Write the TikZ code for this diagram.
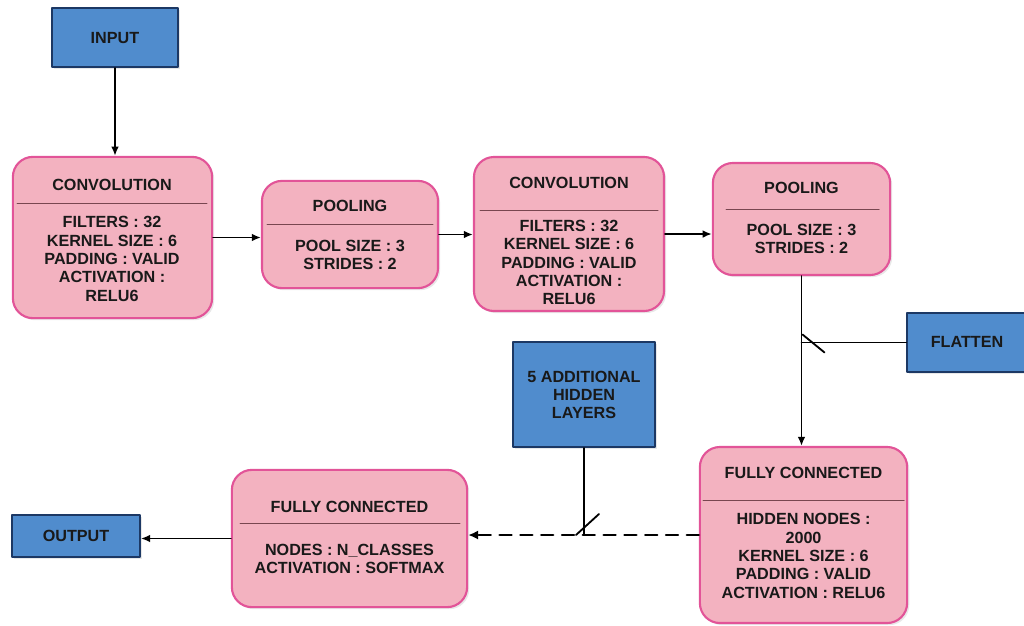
\documentclass[tikz,border=0pt]{standalone}
\usepackage{fontspec}
\setmainfont{Liberation Sans}
\usetikzlibrary{arrows.meta,shadows}
\definecolor{rosa}{RGB}{243,178,192}
\definecolor{rosabordo}{RGB}{226,84,152}
\definecolor{blu}{RGB}{80,140,205}
\definecolor{blubordo}{RGB}{28,56,100}
\definecolor{rigacol}{RGB}{120,70,80}

\begin{document}
\begin{tikzpicture}[x=0.025cm,y=-0.025cm,line join=round,line cap=round,
    font=\fontsize{11.5}{13.1}\selectfont\bfseries,
    strato/.style={rectangle,rounded corners=0.5cm,draw=rosabordo,fill=rosa,
                   line width=1.5pt,
                   drop shadow={opacity=0.18,shadow xshift=1.5pt,shadow yshift=-1.5pt}},
    scatola/.style={rectangle,draw=blubordo,fill=blu,line width=1.3pt,
                    drop shadow={opacity=0.18,shadow xshift=1.5pt,shadow yshift=-1.5pt}},
    testo/.style={align=center,inner sep=0pt,text=black!90},
    riga/.style={line width=0.7pt,draw=rigacol},
    linea/.style={line width=1.3pt},
    freccia/.style={line width=1.3pt,-{Latex[length=6.5pt,width=5.5pt]}},
    tratteggio/.style={line width=1.7pt,dash pattern=on 0.3cm off 0.22cm,
                       -{Latex[length=7pt,width=6.5pt]}}]

  \useasboundingbox (0,0) rectangle (1024,625);

  % ---- ingresso ------------------------------------------------------------
  \node[scatola,minimum width=3.15cm,minimum height=1.48cm] (input) at (115,37.5) {};
  \node[testo] (inputtxt) at (115,38) {INPUT};

  % ---- prima convoluzione --------------------------------------------------
  \node[strato,minimum width=4.98cm,minimum height=4.03cm] (conv1) at (112.5,237.5) {};
  \node[testo] (conv1tit) at (112,185) {CONVOLUTION};
  \draw[riga] (17,203) -- (207,203);
  \node[testo] (conv1txt) at (112,259)
        {FILTERS : 32\\KERNEL SIZE : 6\\PADDING : VALID\\ACTIVATION :\\RELU6};

  % ---- primo pooling -------------------------------------------------------
  \node[strato,minimum width=4.4cm,minimum height=2.68cm] (pool1) at (350,234.5) {};
  \node[testo] (pool1tit) at (350,206) {POOLING};
  \draw[riga] (267,224) -- (433,224);
  \node[testo] (pool1txt) at (350,255) {POOL SIZE : 3\\STRIDES : 2};

  % ---- seconda convoluzione ------------------------------------------------
  \node[strato,minimum width=4.75cm,minimum height=3.85cm] (conv2) at (569,234) {};
  \node[testo] (conv2tit) at (569,183) {CONVOLUTION};
  \draw[riga] (480,210) -- (658,210);
  \node[testo] (conv2txt) at (569,262.5)
        {FILTERS : 32\\KERNEL SIZE : 6\\PADDING : VALID\\ACTIVATION :\\RELU6};

  % ---- secondo pooling -----------------------------------------------------
  \node[strato,minimum width=4.43cm,minimum height=2.8cm] (pool2) at (801.5,219) {};
  \node[testo] (pool2tit) at (801.5,188) {POOLING};
  \draw[riga] (726,209) -- (879,209);
  \node[testo] (pool2txt) at (801.5,239) {POOL SIZE : 3\\STRIDES : 2};

  % ---- flatten e strati nascosti -------------------------------------------
  \node[scatola,minimum width=3cm,minimum height=1.48cm] (flatten) at (967,342.5) {};
  \node[testo] (flattentxt) at (967,342) {FLATTEN};

  \node[scatola,minimum width=3.55cm,minimum height=2.63cm] (hidden) at (584,394.5) {};
  \node[testo] (hiddentxt) at (584,395) {5 ADDITIONAL\\HIDDEN\\LAYERS};

  % ---- strati completamente connessi ---------------------------------------
  \node[strato,minimum width=5.18cm,minimum height=4.4cm] (fc1) at (803.5,535) {};
  \node[testo] (fc1tit) at (803.5,473) {FULLY CONNECTED};
  \draw[riga] (703,500) -- (904,500);
  \node[testo] (fc1txt) at (803.5,556)
        {HIDDEN NODES :\\2000\\KERNEL SIZE : 6\\PADDING : VALID\\ACTIVATION : RELU6};

  \node[strato,minimum width=5.88cm,minimum height=3.43cm] (fc2) at (349.5,538.5) {};
  \node[testo] (fc2tit) at (349.5,507) {FULLY CONNECTED};
  \draw[riga] (240,523) -- (460,523);
  \node[testo] (fc2txt) at (349.5,559) {NODES : N\_CLASSES\\ACTIVATION : SOFTMAX};

  % ---- uscita --------------------------------------------------------------
  \node[scatola,minimum width=3.2cm,minimum height=1.05cm] (output) at (76,536) {};
  \node[testo] (outputtxt) at (76,536) {OUTPUT};

  % ---- collegamenti --------------------------------------------------------
  \draw[freccia] (input.south) -- (input.south |- conv1.north);
  \draw[freccia] (conv1.east) -- (conv1.east -| pool1.west);
  \draw[freccia] (pool1.east) -- (pool1.east -| conv2.west);
  \draw[freccia] (conv2.east) -- (conv2.east -| pool2.west);
  \draw[freccia] (pool2.south) -- (pool2.south |- fc1.north);

  \coordinate (flatj) at (flatten.west -| pool2.south);
  \draw[linea] (flatten.west) -- (flatj);
  \draw[linea] (flatj) ++(1,-8) -- ++(22,18);   % ingresso laterale

  \draw[tratteggio] (fc1.west) -- (fc1.west -| fc2.east);
  \coordinate (hidj) at (hidden.south |- fc1.west);
  \draw[linea] (hidden.south) -- (hidj);
  \draw[linea] (hidj) ++(-8,0) -- ++(23,-21);

  \draw[freccia] (fc2.west) -- (fc2.west -| output.east);

\end{tikzpicture}
\end{document}
